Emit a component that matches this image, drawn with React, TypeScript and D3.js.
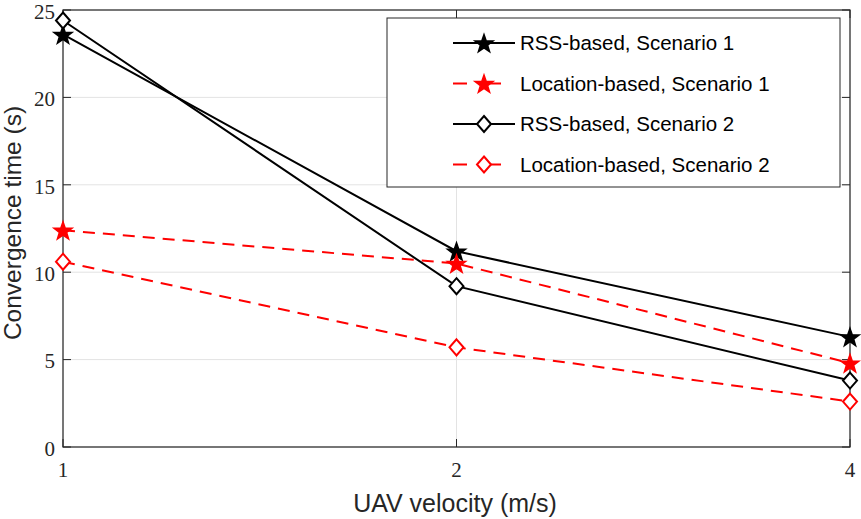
import React from "react";
import * as d3 from "d3";

const velocities = [1, 2, 4];
const rssS1 = [23.6, 11.2, 6.3];
const locS1 = [12.4, 10.5, 4.8];
const rssS2 = [24.4, 9.2, 3.8];
const locS2 = [10.6, 5.7, 2.6];
const yTicks = [0, 5, 10, 15, 20, 25];
const seriesNames = [
  "RSS-based, Scenario 1",
  "Location-based, Scenario 1",
  "RSS-based, Scenario 2",
  "Location-based, Scenario 2",
];

const W = 861, H = 519;
const L = 63, R = 850, T = 10, B = 447;

function starPath(cx: number, cy: number, r: number) {
  const pts: string[] = [];
  for (let i = 0; i < 10; i++) {
    const rr = i % 2 === 0 ? r : r * 0.4;
    const a = -Math.PI / 2 + (i * Math.PI) / 5;
    pts.push(`${cx + rr * Math.cos(a)},${cy + rr * Math.sin(a)}`);
  }
  return "M" + pts.join("L") + "Z";
}

function Marker({ type, x, y, color }: { type: string; x: number; y: number; color: string }) {
  if (type === "star") {
    return <path d={starPath(x, y + 1, 9.5)} fill={color} stroke={color} strokeWidth={1.5} strokeLinejoin="miter" />;
  }
  return (
    <path
      d={`M${x},${y - 8}L${x + 7},${y}L${x},${y + 8}L${x - 7},${y}Z`}
      fill="white"
      stroke={color}
      strokeWidth={2}
    />
  );
}

export default function App() {
  const x = d3.scaleLog().base(2).domain([1, 4]).range([L, R]);
  const y = d3.scaleLinear().domain([0, 25]).range([B, T]);
  const series = [
    { name: seriesNames[0], vals: rssS1, color: "black", dash: "", marker: "star" },
    { name: seriesNames[1], vals: locS1, color: "#ff0000", dash: "12,8", marker: "star" },
    { name: seriesNames[2], vals: rssS2, color: "black", dash: "", marker: "diamond" },
    { name: seriesNames[3], vals: locS2, color: "#ff0000", dash: "12,8", marker: "diamond" },
  ];
  const line = d3
    .line<number>()
    .x((_, i) => x(velocities[i]))
    .y((d) => y(d));
  const tickFont = "'Liberation Serif', 'DejaVu Serif', serif";
  const sans = "'Liberation Sans', Arial, sans-serif";
  const legX = 387, legY = 18, legW = 453, legH = 169;
  return (
    <svg width={W} height={H} style={{ position: "absolute", left: 0, top: 0, background: "white" }}>
      <rect x={0} y={0} width={W} height={H} fill="white" />
      {/* grid */}
      {yTicks.map((t) => (
        <line key={"gy" + t} x1={L} x2={R} y1={y(t)} y2={y(t)} stroke="#e3e3e3" strokeWidth={1} />
      ))}
      {velocities.map((v) => (
        <line key={"gx" + v} x1={x(v)} x2={x(v)} y1={T} y2={B} stroke="#e3e3e3" strokeWidth={1} />
      ))}
      {/* box */}
      <rect x={L} y={T} width={R - L} height={B - T} fill="none" stroke="#262626" strokeWidth={1.2} />
      {/* ticks */}
      {yTicks.map((t) => (
        <g key={"ty" + t}>
          <line x1={L} x2={L + 8} y1={y(t)} y2={y(t)} stroke="#262626" />
          <line x1={R} x2={R - 8} y1={y(t)} y2={y(t)} stroke="#262626" />
          <text x={L - 8} y={y(t)} dy="0.42em" textAnchor="end" fontFamily={tickFont} fontSize={21} fill="#262626">
            {t}
          </text>
        </g>
      ))}
      {velocities.map((v) => (
        <g key={"tx" + v}>
          <line x1={x(v)} x2={x(v)} y1={B} y2={B - 8} stroke="#262626" />
          <line x1={x(v)} x2={x(v)} y1={T} y2={T + 8} stroke="#262626" />
          <text x={x(v)} y={B + 30} textAnchor="middle" fontFamily={tickFont} fontSize={21} fill="#262626">
            {v}
          </text>
        </g>
      ))}
      {/* labels */}
      <text x={455} y={512} textAnchor="middle" fontFamily={sans} fontSize={25} fill="#262626">
        UAV velocity (m/s)
      </text>
      <text
        transform={`translate(21,223) rotate(-90)`}
        textAnchor="middle"
        fontFamily={sans}
        fontSize={24.5}
        fill="#262626"
      >
        Convergence time (s)
      </text>
      {/* lines */}
      {series.map((s) => (
        <path key={s.name} d={line(s.vals) || ""} fill="none" stroke={s.color} strokeWidth={2} strokeDasharray={s.dash} />
      ))}
      {series.map((s) =>
        s.vals.map((v, i) => <Marker key={s.name + i} type={s.marker} x={x(velocities[i])} y={y(v)} color={s.color} />)
      )}
      {/* legend */}
      <rect x={legX} y={legY} width={legW} height={legH} fill="white" stroke="#262626" strokeWidth={1} />
      {series.map((s, i) => {
        const cy = 43 + i * 40.5;
        return (
          <g key={"leg" + i}>
            <line x1={453} x2={515} y1={cy} y2={cy} stroke={s.color} strokeWidth={2} strokeDasharray={s.dash ? "14,20" : ""} />
            <Marker type={s.marker} x={484} y={cy} color={s.color} />
            <text x={520} y={cy} dy="0.35em" fontFamily={sans} fontSize={20.5} fill="black">
              {s.name}
            </text>
          </g>
        );
      })}
    </svg>
  );
}
